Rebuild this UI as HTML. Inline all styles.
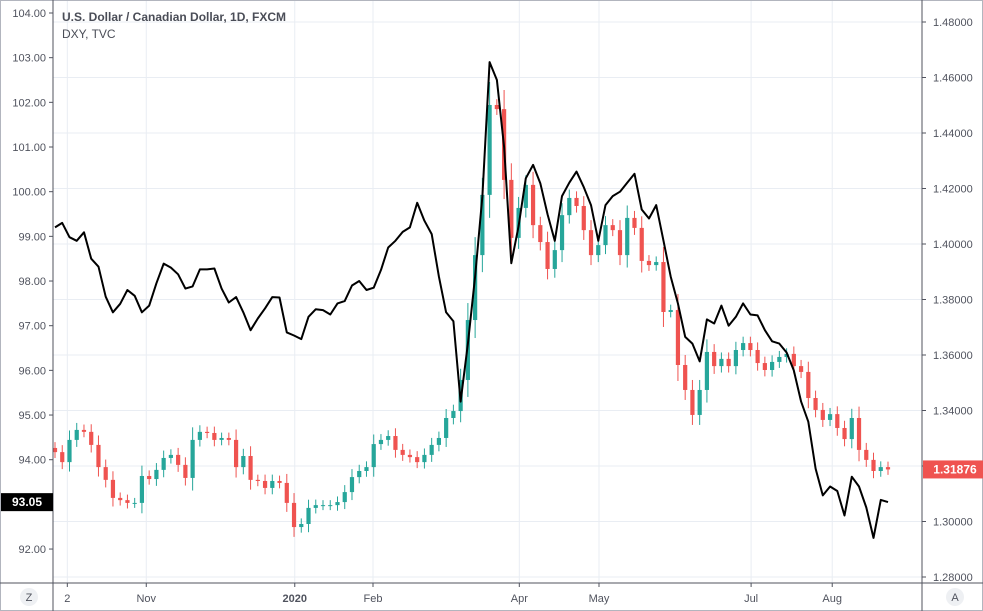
<!DOCTYPE html>
<html><head><meta charset="utf-8"><style>
html,body{margin:0;padding:0;background:#fff;}
svg{display:block;font-family:"Liberation Sans",sans-serif;}
</style></head><body>
<svg id="chart" width="983" height="611" viewBox="0 0 983 611">
<rect x="0" y="0" width="983" height="611" fill="#fff"/>
<g id="grid"></g>
<g id="candles"></g>
<g id="dxy"></g>
<g id="axes"></g>
<text x="62" y="21" font-size="12" font-weight="bold" fill="#4a4d57">U.S. Dollar / Canadian Dollar, 1D, FXCM</text>
<text x="62" y="38" font-size="12" fill="#4a4d57">DXY, TVC</text>
</svg>
<script>
const usdcadClose=[1.3250,1.3214,1.3294,1.3330,1.3323,1.3276,1.3196,1.3150,1.3085,1.3077,1.3067,1.3067,1.3164,1.3153,1.3186,1.3229,1.3240,1.3204,1.3157,1.3294,1.3323,1.3319,1.3294,1.3301,1.3294,1.3196,1.3236,1.3150,1.3146,1.3121,1.3146,1.3139,1.3067,1.2980,1.2991,1.3049,1.3059,1.3059,1.3059,1.3070,1.3106,1.3160,1.3182,1.3196,1.3279,1.3294,1.3308,1.3258,1.3240,1.3232,1.3214,1.3240,1.3276,1.3301,1.3373,1.3398,1.3510,1.3726,1.3960,1.4177,1.4501,1.4486,1.4231,1.4022,1.4130,1.4213,1.4068,1.4007,1.3910,1.3978,1.4104,1.4166,1.4137,1.4050,1.3960,1.3996,1.4068,1.4050,1.3960,1.4094,1.4058,1.3939,1.3924,1.3935,1.3755,1.3762,1.3564,1.3474,1.3384,1.3474,1.3611,1.3560,1.3586,1.3560,1.3618,1.3643,1.3618,1.3571,1.3546,1.3575,1.3593,1.3604,1.3560,1.3539,1.3445,1.3402,1.3366,1.3387,1.3337,1.3297,1.3373,1.3258,1.3222,1.3182,1.3196,1.31876];
const dxyClose=[99.2,99.3,98.98,98.9,99.09,98.5,98.32,97.65,97.3,97.49,97.8,97.67,97.3,97.45,97.95,98.39,98.3,98.15,97.83,97.88,98.26,98.26,98.28,97.83,97.52,97.64,97.3,96.9,97.16,97.39,97.64,97.63,96.85,96.78,96.7,97.2,97.37,97.35,97.25,97.5,97.55,97.9,98.0,97.8,97.85,98.25,98.75,98.9,99.1,99.2,99.75,99.35,99.05,98.1,97.3,97.1,95.3,96.6,98.1,99.9,102.9,102.5,101.0,98.4,99.23,100.3,100.6,100.19,99.49,98.9,99.9,100.2,100.45,100.1,99.7,98.9,99.7,99.9,100.0,100.2,100.4,99.6,99.4,99.7,98.9,98.1,97.5,96.75,96.6,96.2,97.14,97.05,97.45,97.0,97.2,97.5,97.25,97.23,96.9,96.65,96.6,96.4,96.0,95.3,94.85,93.8,93.2,93.4,93.3,92.75,93.62,93.4,92.93,92.25,93.1,93.05];
const leftTicks=[104,103,102,101,100,99,98,97,96,95,94,92];
const rightTicks=[1.48,1.46,1.44,1.42,1.40,1.38,1.36,1.34,1.32,1.30,1.28];
const monthLabels=["2","Nov","2020","Feb","Apr","May","Jul","Aug"];
const monthIndex=[1.7,12.6,33.1,43.9,64.1,75.1,96.1,107.3];

const NS="http://www.w3.org/2000/svg";
const PL=53,PR=922,PB=583;
const X0=55,STEP=(888-55)/(usdcadClose.length-1);
function xAt(i){return X0+i*STEP;}
function yLeft(v){return 13+(104-v)*44.67;}
function yRight(v){return 577-(v-1.28)*2775;}
function mk(tag,attrs,parent){const e=document.createElementNS(NS,tag);for(const k in attrs)e.setAttribute(k,attrs[k]);parent.appendChild(e);return e;}

const grid=document.getElementById('grid');
rightTicks.forEach(t=>{
  const l=mk('line',{x1:PL,x2:PR,y1:yRight(t),y2:yRight(t),stroke:'#e9edf3','stroke-width':1},grid);
  
  
});
monthIndex.forEach(mi=>{
  const x=xAt(mi);
  const l=mk('line',{x1:x,x2:x,y1:0,y2:PB,stroke:'#e9edf3','stroke-width':1},grid);
  
  
});

const cg=document.getElementById('candles');
const bw=4.2;
usdcadClose.forEach((c,i)=>{
  const o=i===0?c+0.0015:usdcadClose[i-1];
  const up=c>=o;
  const col=up?'#26a69a':'#ef5350';
  const hi=Math.max(o,c)+0.0018+Math.abs(c-o)*0.2;
  const lo=Math.min(o,c)-0.0018-Math.abs(c-o)*0.2;
  const x=xAt(i);
  const w=mk('line',{x1:x,x2:x,y1:yRight(hi),y2:yRight(lo),stroke:col,'stroke-width':1},cg);
  
  
  const yt=yRight(Math.max(o,c)),yb=yRight(Math.min(o,c));
  const r=mk('rect',{x:x-bw/2,y:yt,width:bw,height:Math.max(1,yb-yt),fill:col},cg);
  
  
});

const dg=document.getElementById('dxy');
let d='';
dxyClose.forEach((v,i)=>{d+=(i?'L':'M')+xAt(i).toFixed(1)+' '+yLeft(v).toFixed(1);});
const path=mk('path',{d:d,fill:'none',stroke:'#000','stroke-width':2,'stroke-linejoin':'round'},dg);



const ax=document.getElementById('axes');
const border=mk('rect',{x:0.5,y:0.5,width:982,height:610,fill:'none',stroke:'#b2b5be'},ax);


[[PL,0,PL,611],[PR,0,PR,611],[0,PB,983,PB]].forEach(s=>{
  const l=mk('line',{x1:s[0],y1:s[1],x2:s[2],y2:s[3],stroke:'#50535e','stroke-width':1},ax);
  
  
});
leftTicks.forEach(t=>{
  const y=yLeft(t);
  const tk=mk('line',{x1:PL-4,x2:PL,y1:y,y2:y,stroke:'#50535e'},ax);
  
  
  const tx=mk('text',{x:46,y:y+4,'text-anchor':'end','font-size':11,fill:'#50535e'},ax);
  tx.textContent=t.toFixed(2);
  
  
});
rightTicks.forEach(t=>{
  const y=yRight(t);
  const tk=mk('line',{x1:PR,x2:PR+4,y1:y,y2:y,stroke:'#50535e'},ax);
  
  
  const tx=mk('text',{x:933,y:y+4,'font-size':11,fill:'#50535e'},ax);
  tx.textContent=t.toFixed(5);
  
  
});
monthLabels.forEach((m,k)=>{
  const x=xAt(monthIndex[k]);
  const tk=mk('line',{x1:x,x2:x,y1:PB,y2:PB+4,stroke:'#50535e'},ax);
  
  
  const tx=mk('text',{x:x,y:602,'text-anchor':'middle','font-size':11,fill:'#50535e','font-weight':m==='2020'?'bold':'normal'},ax);
  tx.textContent=m;
  
  
});
const lastC=usdcadClose[usdcadClose.length-1];
const ry=yRight(lastC);
const rb=mk('rect',{x:PR+1,y:ry-9,width:61,height:18,fill:'#ef5350'},ax);


const rt=mk('text',{x:955,y:ry+4,'text-anchor':'middle','font-size':12,'font-weight':'bold',fill:'#fff'},ax);
rt.textContent=lastC.toFixed(5);


const lastD=dxyClose[dxyClose.length-1];
const ly=yLeft(lastD);
const lb=mk('rect',{x:1,y:ly-9,width:PL-1,height:18,fill:'#000'},ax);


const lt=mk('text',{x:27,y:ly+4,'text-anchor':'middle','font-size':12,'font-weight':'bold',fill:'#fff'},ax);
lt.textContent=lastD.toFixed(2);


[[29,597,'Z','left-scale-zoom-button'],[955,597,'A','auto-scale-button']].forEach(b=>{
  const c=mk('circle',{cx:b[0],cy:b[1],r:9,fill:'#eef0f3'},ax);
  
  
  const t=mk('text',{x:b[0],y:b[1]+4,'text-anchor':'middle','font-size':11,fill:'#50535e'},ax);
  t.textContent=b[2];
  
  
});
</script>
</body></html>
